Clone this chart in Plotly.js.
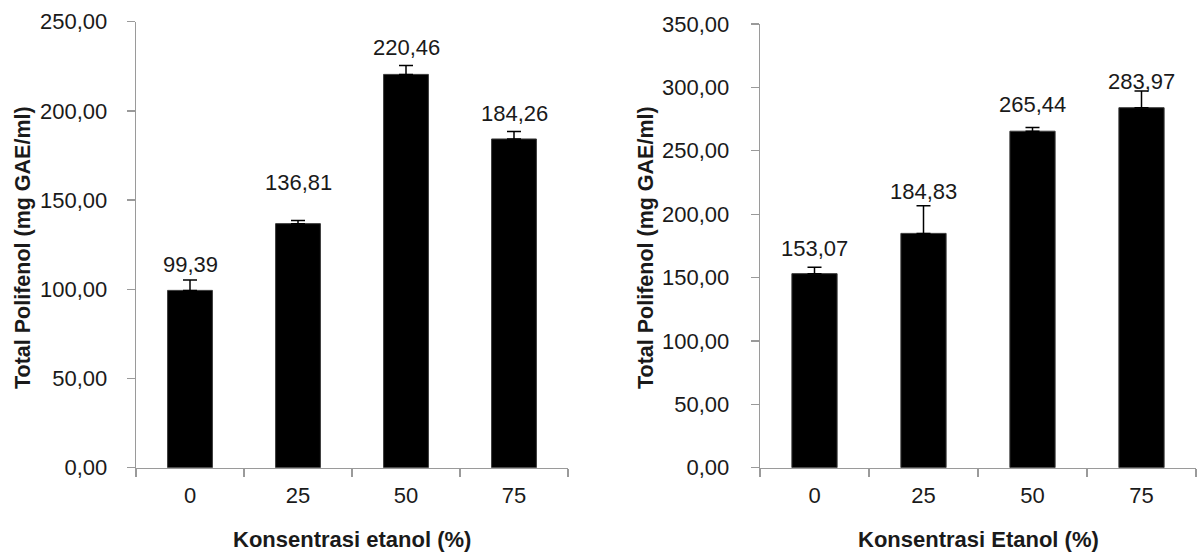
<!DOCTYPE html>
<html>
<head>
<meta charset="utf-8">
<script src="https://cdn.plot.ly/plotly-3.0.1.min.js"></script>
<style>
  html, body { margin: 0; padding: 0; background: #fff; }
  #chart { width: 1197px; height: 554px; }
</style>
</head>
<body>
<div id="chart"></div>
<script>
// Ethanol concentration (%) used for each extraction
const categories = ['0', '25', '50', '75'];

// Left panel: total polyphenol per ethanol concentration, with upper error
const leftValues = [99.39, 136.81, 220.46, 184.26];
const leftErrors = [5.8, 1.8, 5.0, 4.2];

// Right panel: total polyphenol per ethanol concentration, with upper error
const rightValues = [153.07, 184.83, 265.44, 283.97];
const rightErrors = [5.0, 21.8, 2.9, 13.1];

// Axis titles
const yTitle = 'Total Polifenol (mg GAE/ml)';
const leftXTitle = 'Konsentrasi etanol (%)';
const rightXTitle = 'Konsentrasi Etanol (%)';

// Gap (px) between the top of each bar and its value label
const leftLabelGap = [17, 33, 18, 17];
const rightLabelGap = [17, 33, 18, 18];

const FONT = '"Liberation Sans", Arial, sans-serif';
const TEXT = '#1a1a1a';
const AXIS = '#9a9a9a';

function barTrace(values, errors, xa, ya) {
  return {
    type: 'bar',
    x: categories,
    y: values,
    xaxis: xa,
    yaxis: ya,
    width: 0.415,
    marker: { color: '#000', line: { color: '#3a3a3a', width: 1 } },
    error_y: {
      type: 'data',
      symmetric: false,
      array: errors,
      arrayminus: errors.map(() => 0),
      color: '#000',
      thickness: 1.5,
      width: 7
    },
    hoverinfo: 'none',
    showlegend: false
  };
}

function fmt(v) { return v.toFixed(2).replace('.', ','); }

// Value labels sit above each bar; on a category axis the x position is the category index
function valueLabels(values, gaps, xa, ya) {
  return values.map((v, i) => ({
    xref: xa, yref: ya,
    x: i, y: v,
    text: fmt(v),
    showarrow: false,
    xanchor: 'center', yanchor: 'bottom',
    yshift: gaps[i] - 6,
    font: { family: FONT, size: 22, color: TEXT }
  }));
}

const xCommon = {
  type: 'category',
  range: [-0.5, 3.5],
  showline: true, linecolor: AXIS, linewidth: 1.3,
  ticks: 'outside', tickson: 'boundaries', ticklen: 8, tickcolor: AXIS, tickwidth: 1.3,
  showgrid: false, zeroline: false,
  ticklabelstandoff: 8,
  tickfont: { family: FONT, size: 22, color: TEXT },
  automargin: false
};

const yCommon = {
  showline: true, linecolor: AXIS, linewidth: 1.3,
  ticks: 'outside', ticklen: 8, tickcolor: AXIS, tickwidth: 1.3,
  showgrid: false, zeroline: false,
  tickformat: '.2f', dtick: 50,
  ticklabelstandoff: 15,
  tickfont: { family: FONT, size: 22, color: TEXT },
  automargin: false
};

const yBottom = 86.3 / 554;

const layout = {
  width: 1197, height: 554,
  margin: { l: 0, r: 0, t: 0, b: 0 },
  paper_bgcolor: '#fff', plot_bgcolor: '#fff',
  separators: ',.',
  bargap: 0,
  xaxis: Object.assign({}, xCommon, { domain: [136 / 1197, 568 / 1197], anchor: 'y' }),
  yaxis: Object.assign({}, yCommon, { domain: [yBottom, 532.3 / 554], range: [0, 250], anchor: 'x' }),
  xaxis2: Object.assign({}, xCommon, { domain: [760 / 1197, 1196 / 1197], anchor: 'y2' }),
  yaxis2: Object.assign({}, yCommon, { domain: [yBottom, 530 / 554], range: [0, 350], anchor: 'x2', ticklabelstandoff: 17 }),
  annotations: [].concat(
    valueLabels(leftValues, leftLabelGap, 'x', 'y'),
    valueLabels(rightValues, rightLabelGap, 'x2', 'y2'),
    [
      { xref: 'paper', yref: 'paper', x: 23 / 1197, y: (554 - 248) / 554,
        text: '<b>' + yTitle + '</b>', textangle: -90, showarrow: false,
        xanchor: 'center', yanchor: 'middle',
        font: { family: FONT, size: 21.5, color: TEXT } },
      { xref: 'paper', yref: 'paper', x: 646 / 1197, y: (554 - 248) / 554,
        text: '<b>' + yTitle + '</b>', textangle: -90, showarrow: false,
        xanchor: 'center', yanchor: 'middle',
        font: { family: FONT, size: 21.5, color: TEXT } },
      { xref: 'paper', yref: 'paper', x: 352 / 1197, y: (554 - 539) / 554,
        text: '<b>' + leftXTitle + '</b>', showarrow: false,
        xanchor: 'center', yanchor: 'middle',
        font: { family: FONT, size: 22, color: TEXT } },
      { xref: 'paper', yref: 'paper', x: 978 / 1197, y: (554 - 539) / 554,
        text: '<b>' + rightXTitle + '</b>', showarrow: false,
        xanchor: 'center', yanchor: 'middle',
        font: { family: FONT, size: 22, color: TEXT } }
    ]
  )
};

Plotly.newPlot('chart', [
  barTrace(leftValues, leftErrors, 'x', 'y'),
  barTrace(rightValues, rightErrors, 'x2', 'y2')
], layout, { staticPlot: true, displayModeBar: false });
</script>
</body>
</html>
